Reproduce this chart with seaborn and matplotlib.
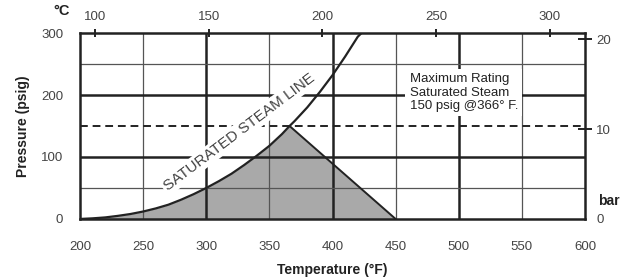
import numpy as np
import pandas as pd
import seaborn as sns
import matplotlib.pyplot as plt

# saturated steam line (deg F vs psig)
sat_temp = [200, 210, 220, 230, 240, 250, 260, 270, 280, 290, 300, 310, 320, 330,
            340, 350, 360, 366, 370, 380, 390, 400, 410, 420, 423]
sat_psig = [0, 1, 2.5, 5, 8, 12, 17, 23, 31, 40, 50, 61, 73, 87,
            102, 118, 137, 150, 158, 180, 205, 232, 262, 294, 300]

# rating boundary: max 150 psig @ 366 F, down to 0 psig @ 450 F
rating_temp = [366, 450]
rating_psig = [150, 0]

x_ticks = [200, 250, 300, 350, 400, 450, 500, 550, 600]
y_ticks = [0, 100, 200, 300]
c_ticks = [100, 150, 200, 250, 300]
bar_ticks = [0, 10, 20]

heavy_x = [300, 400, 500]
thin_x = [250, 350, 450, 550]
heavy_y = [100, 200]
thin_y = [50, 250]

sns.set_style("white")
plt.rcParams['font.family'] = ['Liberation Sans', 'DejaVu Sans']

sat = pd.DataFrame({'temp': sat_temp, 'psig': sat_psig})

fig = plt.figure(figsize=(6.25, 2.8), dpi=100)
ax = fig.add_axes([0.128, 0.218, 0.808, 0.664])
dark = '#222222'
txt = '#444444'

# grid
for v in thin_x:
    ax.axvline(v, color='#555555', lw=0.9, zorder=1)
for v in heavy_x:
    ax.axvline(v, color=dark, lw=1.8, zorder=1)
for v in thin_y:
    ax.axhline(v, color='#555555', lw=0.9, zorder=1)
for v in heavy_y:
    ax.axhline(v, color=dark, lw=1.8, zorder=1)
ax.axhline(150, color=dark, lw=1.4, ls=(0, (4, 2.5)), zorder=1)

# shaded allowable region
fill_t = [t for t in sat_temp if t <= 366] + [450]
fill_p = [p for t, p in zip(sat_temp, sat_psig) if t <= 366] + [0]
ax.fill_between(fill_t, fill_p, 0, color='#a9a9a9', lw=0, zorder=0.5)

sns.lineplot(data=sat, x='temp', y='psig', color=dark, lw=1.6, ax=ax, zorder=3)
sns.lineplot(x=rating_temp, y=rating_psig, color=dark, lw=1.4, ax=ax, zorder=3)

ax.set_xlim(200, 600)
ax.set_ylim(0, 300)
ax.set_xticks(x_ticks)
ax.set_yticks(y_ticks)
ax.tick_params(which='major', length=0, labelsize=9.5, labelcolor=txt)
ax.tick_params(axis='x', which='major', pad=16)
ax.tick_params(axis='y', which='major', pad=12)
ax.set_xticks(heavy_x, minor=True)
ax.set_yticks(heavy_y, minor=True)
ax.tick_params(axis='x', which='minor', length=6, width=1.8, color=dark, direction='out')
ax.tick_params(axis='y', which='minor', length=9.5, width=1.8, color=dark, direction='out')
for s in ax.spines.values():
    s.set_color(dark)
    s.set_linewidth(1.8)

ax.set_xlabel('Temperature (°F)', fontsize=10, fontweight='bold', color=dark, labelpad=7)
ax.set_ylabel('Pressure (psig)', fontsize=10, fontweight='bold', color=dark, labelpad=8)

# top axis in deg C
top = ax.secondary_xaxis('top', functions=(lambda f: (f - 32) * 5 / 9, lambda c: c * 9 / 5 + 32))
top.set_xticks(c_ticks)
top.tick_params(length=6, width=1.4, direction='inout', color=dark, labelsize=9.5, labelcolor=txt, pad=4)
top.spines['top'].set_visible(False)

# right axis in bar
right = ax.secondary_yaxis('right', functions=(lambda p: p / 14.5038, lambda b: b * 14.5038))
right.set_yticks(bar_ticks)
right.tick_params(length=10, width=1.4, direction='inout', color=dark, labelsize=9.5, labelcolor=txt, pad=3)
right.spines['right'].set_visible(False)
t0 = right.yaxis.get_major_ticks()[0]
t0.tick1line.set_visible(False)
t0.tick2line.set_visible(False)

fig.text(0.098, 0.962, '°C', fontsize=10.5, fontweight='bold', color=dark, ha='center', va='center')
fig.text(0.957, 0.282, 'bar', fontsize=10, fontweight='bold', color=dark, ha='left', va='center')

ax.text(326, 140, 'SATURATED STEAM LINE', rotation=37, fontsize=11, color=txt,
        ha='center', va='center', zorder=2,
        bbox=dict(facecolor='white', edgecolor='none', pad=1.5))
ax.text(461, 204, 'Maximum Rating\nSaturated Steam\n150 psig @366° F.', fontsize=9.5,
        color=dark, ha='left', va='center', linespacing=1.15, zorder=2,
        bbox=dict(facecolor='white', edgecolor='none', pad=3))

fig.savefig('out.png', dpi=100)
